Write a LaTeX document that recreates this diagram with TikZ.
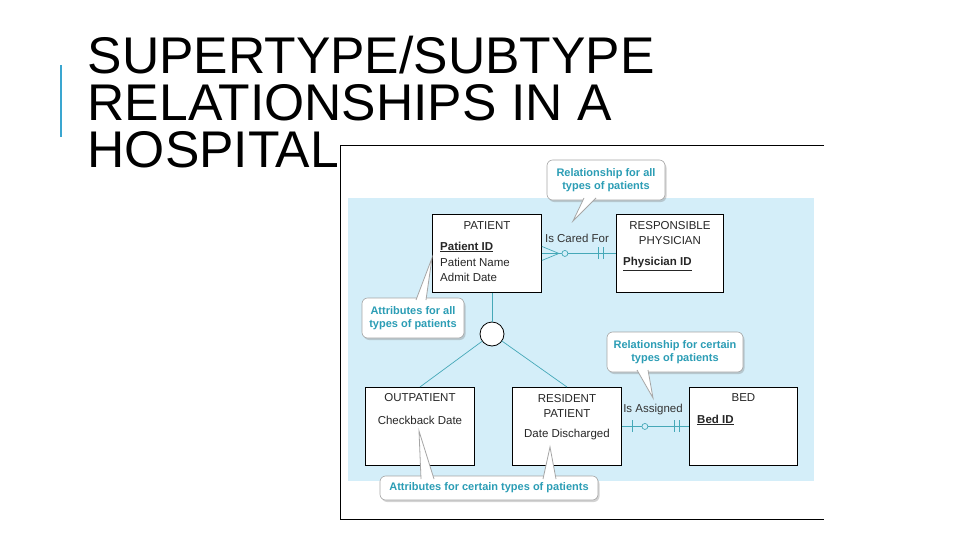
\documentclass[tikz,border=0pt]{standalone}
\usepackage{fontspec}
\setmainfont{Liberation Sans}
\usetikzlibrary{positioning,shadows,calc}
\definecolor{panelblue}{HTML}{D4EEF9}
\definecolor{tealtext}{HTML}{2B9DB5}
\definecolor{relline}{HTML}{45A8B8}
\definecolor{accentbar}{HTML}{3AA6D0}
\tikzset{
  entity/.style={rectangle, draw, fill=white, line width=0.9pt, anchor=north west,
    minimum width=109pt, minimum height=78pt, inner sep=0pt},
  callout/.style={rectangle, rounded corners=2mm, fill=white, draw=gray!70, line width=0.6pt,
    drop shadow={opacity=0.35, shadow xshift=1.5pt, shadow yshift=-2pt},
    font={\fontsize{11}{13.5}\selectfont\bfseries}, text=tealtext, align=center, inner sep=0pt},
  pointer/.style={fill=white, draw=gray!70, line width=0.8pt},
  rel/.style={draw=relline, line width=0.7pt},
  attr/.style={font={\fontsize{11.5}{15}\selectfont}, inner sep=0pt, align=center, text=black!85},
  keyattr/.style={attr, font={\fontsize{11.5}{15}\selectfont\bfseries}},
  relname/.style={attr, text=black!80}
}
\begin{document}
\begin{tikzpicture}[x=1pt, y=-1pt]
  \useasboundingbox (0,0) rectangle (960,540);
  % title and accent bar
  \fill[accentbar] (59.5,65) rectangle (62,137);
  \node (title) [anchor=north west, inner sep=0pt, align=left,
    font={\fontsize{51.6}{47}\selectfont}] at (87.5,36)
    {SUPERTYPE/SUBTYPE\\RELATIONSHIPS IN A\\HOSPITAL};
  % picture frame and panel
  \draw[line width=1pt] (824,146) -- (340,146) -- (340,519) -- (824,519);
  \fill[panelblue] (348,198) rectangle (814,481);

  % entities
  \node (patient) [entity] at (432,214) {};
  \node (physician) [entity, minimum width=107pt] at (616,214) {};
  \node (outpatient) [entity] at (365,387) {};
  \node (resident) [entity] at (512,387) {};
  \node (bed) [entity, minimum width=108pt] at (689,387) {};
  \node (circ) [circle, draw, fill=white, line width=0.8pt, minimum size=24pt, inner sep=0pt] at (492,334) {};

  % entity texts
  \node [attr] at ($(patient.north)+(0,12)$) {PATIENT};
  \node (pid) [keyattr, anchor=west] at ($(patient.north west)+(8,33)$) {\underline{Patient ID}};
  \node [attr, anchor=west] at ($(patient.north west)+(8,48)$) {Patient Name};
  \node [attr, anchor=west] at ($(patient.north west)+(8,63)$) {Admit Date};
  \node [attr] at ($(physician.north)+(0,19)$) {RESPONSIBLE\\PHYSICIAN};
  \node [keyattr, anchor=west] at ($(physician.north west)+(7,50)$) {\underline{Physician ID}};
  \node [attr] at ($(outpatient.north)+(0,11)$) {OUTPATIENT};
  \node [attr] at ($(outpatient.north)+(0,33)$) {Checkback Date};
  \node [attr] at ($(resident.north)+(0,18.5)$) {RESIDENT\\PATIENT};
  \node [attr] at ($(resident.north)+(0,48)$) {Date Discharged};
  \node [attr] at ($(bed.north)+(0,11)$) {BED};
  \node [keyattr, anchor=west] at ($(bed.north west)+(8,33)$) {\underline{Bed ID}};

  % supertype/subtype connectors
  \draw[rel] (circ.north |- patient.south) -- (circ.north);
  \draw[rel] (circ) -- (outpatient.north);
  \draw[rel] (circ) -- (resident.north);

  % Is Cared For
  \draw[rel] (patient.east) -- (physician.west);
  \draw[rel] ($(patient.east)+(0,-7)$) -- ($(patient.east)+(17,0)$) -- ($(patient.east)+(0,7)$);
  \draw[rel, fill=panelblue] ($(patient.east)+(23,0)$) circle (3);
  \draw[rel] ($(physician.west)+(-18,-6)$) -- ($(physician.west)+(-18,6)$);
  \draw[rel] ($(physician.west)+(-13,-6)$) -- ($(physician.west)+(-13,6)$);
  \node (cared) [relname] at (577,238) {Is Cared For};

  % Is Assigned
  \draw[rel] (resident.east) -- (bed.west);
  \draw[rel] ($(resident.east)+(10,-6)$) -- ($(resident.east)+(10,6)$);
  \draw[rel, fill=panelblue] ($(resident.east)+(23,0)$) circle (3);
  \draw[rel] ($(bed.west)+(-15,-6)$) -- ($(bed.west)+(-15,6)$);
  \draw[rel] ($(bed.west)+(-10,-6)$) -- ($(bed.west)+(-10,6)$);
  \node (assigned) [relname] at (653,410) {Is Assigned};

  % callouts
  \node (relall) [callout, minimum width=118pt, minimum height=40pt] at (606,180)
    {Relationship for all\\types of patients};
  \coordinate (relalltip) at (573,221);
  \path[pointer] (584,198) -- (relalltip) -- (596,198);

  \node (attrall) [callout, minimum width=102pt, minimum height=40pt] at (413,318)
    {Attributes for all\\types of patients};
  \coordinate (attralltip) at (432,258);
  \path[pointer] (416,300) -- (attralltip) -- (426,300);

  \node (relcert) [callout, minimum width=136pt, minimum height=40pt] at (675,352)
    {Relationship for certain\\types of patients};
  \coordinate (relcerttip) at (653,398);
  \path[pointer] (637,370) -- (relcerttip) -- (648,370);

  \node (attrcert) [callout, minimum width=218pt, minimum height=24pt] at (489,488)
    {Attributes for certain types of patients};
  \coordinate (outtip) at (419,431);
  \coordinate (restip) at (550,447);
  \path[pointer] (421,479) -- (outtip) -- (434,479);
  \path[pointer] (543,479) -- (restip) -- (556,479);
\end{tikzpicture}
\end{document}
